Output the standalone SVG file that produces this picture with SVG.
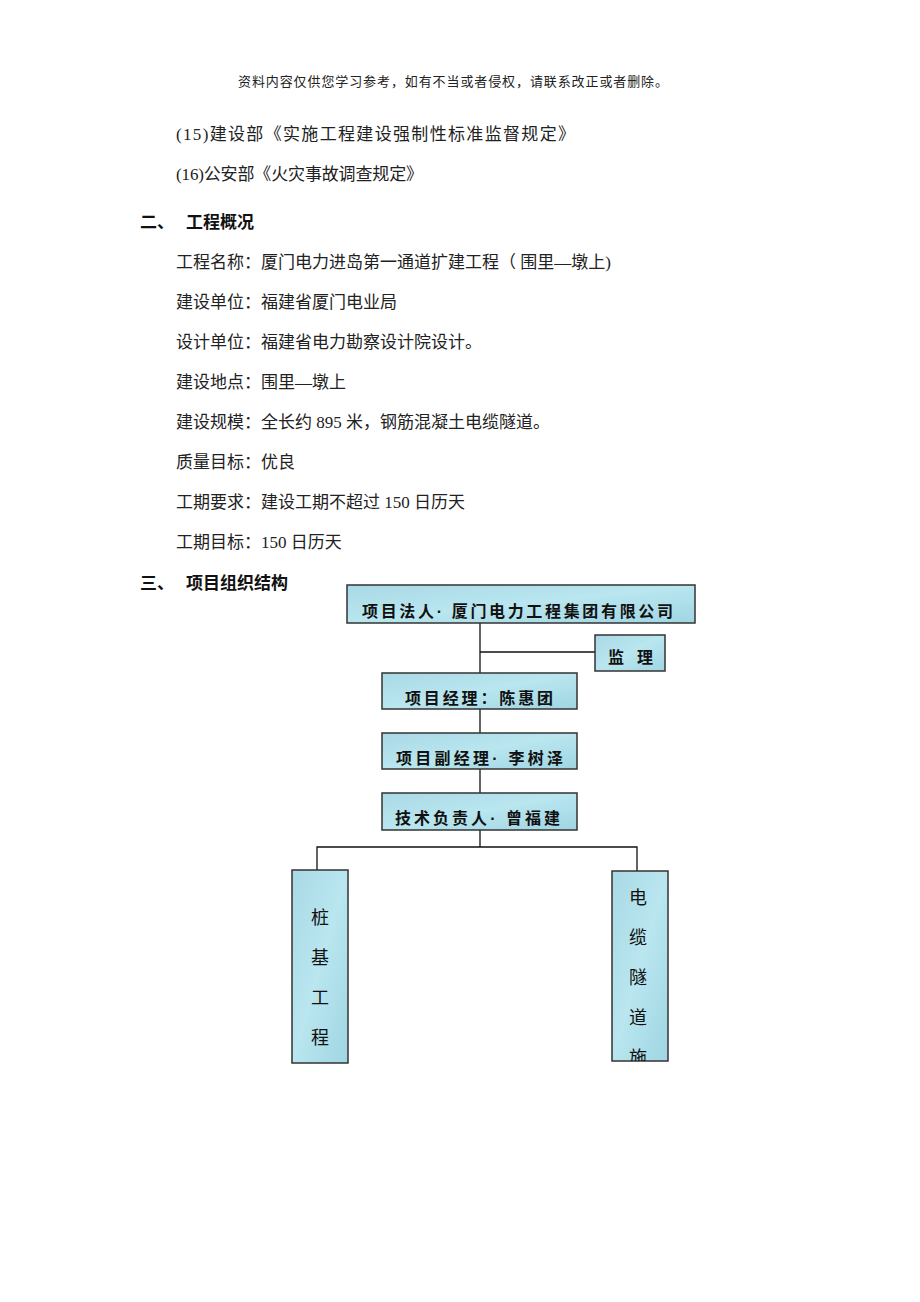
<svg xmlns="http://www.w3.org/2000/svg" width="920" height="1302" viewBox="0 0 920 1302">
<style>
.t{font-family:"Liberation Serif","Noto Sans CJK SC",serif;font-size:17px;fill:#222}
.h{font-family:"Liberation Sans","Noto Sans CJK SC",sans-serif;font-size:17px;font-weight:bold;fill:#111}
.n{font-family:"Liberation Sans","Noto Sans CJK SC",sans-serif;font-size:16px;font-weight:bold;fill:#111}
.v{font-family:"Liberation Serif","Noto Sans CJK SC",serif;font-size:18px;fill:#111}
.box{fill:url(#bg);stroke:#333;stroke-width:1.5}
.ln{stroke:#111;stroke-width:1.3;fill:none}
</style>
<defs>
<linearGradient id="bg" x1="0" y1="0" x2="1" y2="1">
<stop offset="0" stop-color="#a9d9e6"/>
<stop offset="0.5" stop-color="#b9e6ef"/>
<stop offset="1" stop-color="#9fd5e3"/>
</linearGradient>
<clipPath id="cr"><rect x="612" y="871" width="56" height="190"/></clipPath>
</defs>
<text x="238" y="86" class="t" style="font-size:13px" textLength="430" lengthAdjust="spacing">资料内容仅供您学习参考，如有不当或者侵权，请联系改正或者删除。</text>
<text x="176" y="140" class="t" textLength="399" lengthAdjust="spacing">(15)建设部《实施工程建设强制性标准监督规定》</text>
<text x="176" y="180" class="t" textLength="247" lengthAdjust="spacing">(16)公安部《火灾事故调查规定》</text>
<text x="140" y="228" class="h">二、</text>
<text x="186" y="228" class="h">工程概况</text>
<text x="176" y="268" class="t">工程名称：厦门电力进岛第一通道扩建工程（ 围里—墩上)</text>
<text x="176" y="308" class="t">建设单位：福建省厦门电业局</text>
<text x="176" y="348" class="t">设计单位：福建省电力勘察设计院设计。</text>
<text x="176" y="388" class="t">建设地点：围里—墩上</text>
<text x="176" y="428" class="t">建设规模：全长约 895 米，钢筋混凝土电缆隧道。</text>
<text x="176" y="468" class="t">质量目标：优良</text>
<text x="176" y="508" class="t">工期要求：建设工期不超过 150 日历天</text>
<text x="176" y="548" class="t">工期目标：150 日历天</text>
<text x="140" y="589" class="h">三、</text>
<text x="186" y="589" class="h">项目组织结构</text>
<g id="connectors">
<line class="ln" x1="480" y1="623" x2="480" y2="673"/>
<line class="ln" x1="480" y1="652" x2="595" y2="652"/>
<line class="ln" x1="480" y1="709" x2="480" y2="733"/>
<line class="ln" x1="480" y1="769" x2="480" y2="793"/>
<line class="ln" x1="480" y1="830" x2="480" y2="847"/>
<polyline class="ln" points="317,870 317,847 637,847 637,871"/>
</g>
<g id="n1"><rect class="box" x="347" y="585" width="348" height="38"/><text x="362" y="617" class="n" textLength="311" lengthAdjust="spacing">项目法人· 厦门电力工程集团有限公司</text></g>
<g id="n2"><rect class="box" x="595" y="635" width="70" height="36"/><text x="608" y="663" class="n" textLength="45" lengthAdjust="spacing">监理</text></g>
<g id="n3"><rect class="box" x="382" y="673" width="195" height="36"/><text x="405" y="704" class="n" textLength="148" lengthAdjust="spacing">项目经理：陈惠团</text></g>
<g id="n4"><rect class="box" x="382" y="733" width="195" height="36"/><text x="396" y="764" class="n" textLength="167" lengthAdjust="spacing">项目副经理· 李树泽</text></g>
<g id="n5"><rect class="box" x="382" y="793" width="195" height="37"/><text x="395" y="824" class="n" textLength="165" lengthAdjust="spacing">技术负责人· 曾福建</text></g>
<g id="n6"><rect class="box" x="292" y="870" width="56" height="193"/>
<text x="320" text-anchor="middle" class="v"><tspan x="320" y="924">桩</tspan><tspan x="320" y="964">基</tspan><tspan x="320" y="1004">工</tspan><tspan x="320" y="1044">程</tspan></text></g>
<g id="n7"><rect class="box" x="612" y="871" width="56" height="190"/>
<text text-anchor="middle" class="v" clip-path="url(#cr)"><tspan x="638" y="904">电</tspan><tspan x="638" y="944">缆</tspan><tspan x="638" y="984">隧</tspan><tspan x="638" y="1024">道</tspan><tspan x="638" y="1064">施</tspan></text></g>
</svg>
